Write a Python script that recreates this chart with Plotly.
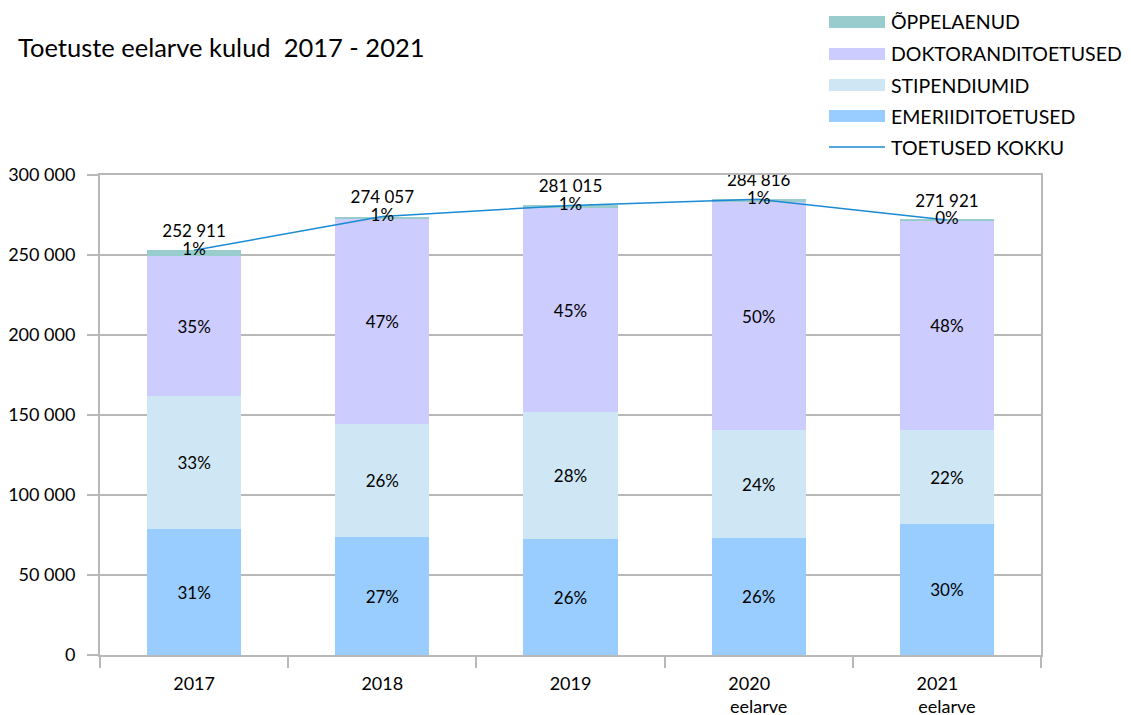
import plotly.graph_objects as go

categories = ["2017", "2018", "2019", "2020<br>eelarve", "2021<br>eelarve"]
PAD = '<span style="color:rgba(0,0,0,0)">ee</span>'
tick_text = ["2017", "2018", "2019", "2020" + PAD + "<br>eelarve", "2021" + PAD + "<br>eelarve"]
emeriidi = [78750, 73750, 72500, 73125, 81875]
stipendiumid = [83125, 70625, 79375, 67500, 58750]
doktorandi = [87500, 128125, 127500, 142491, 130796]
totals = [252911, 274057, 281015, 284816, 271921]
oppelaenud = [t - a - b - c for t, a, b, c in zip(totals, emeriidi, stipendiumid, doktorandi)]

series_names = ["ÕPPELAENUD", "DOKTORANDITOETUSED", "STIPENDIUMID", "EMERIIDITOETUSED", "TOETUSED KOKKU"]
colors = {"ÕPPELAENUD": "#99CCCC", "DOKTORANDITOETUSED": "#CCCCFF",
          "STIPENDIUMID": "#CFE6F4", "EMERIIDITOETUSED": "#99CCFF", "TOETUSED KOKKU": "#1A8AD4"}

FONT = "Lato"
W, H = 1123, 708  # page body adds an 8px offset


def pct(vals):
    return [f"{round(v / t * 100)}%" for v, t in zip(vals, totals)]


def fmt(v):
    return f"{v:,}".replace(",", " ")


fig = go.Figure()
for name, vals in [("EMERIIDITOETUSED", emeriidi), ("STIPENDIUMID", stipendiumid),
                   ("DOKTORANDITOETUSED", doktorandi)]:
    fig.add_trace(go.Bar(x=categories, y=vals, name=name, marker_color=colors[name],
                         marker_line_width=0, text=pct(vals), textposition="inside",
                         insidetextanchor="middle", textangle=0,
                         textfont=dict(size=17, color="black", family=FONT),
                         showlegend=False))
fig.add_trace(go.Bar(x=categories, y=oppelaenud, name="ÕPPELAENUD",
                     marker_color=colors["ÕPPELAENUD"], marker_line_width=0,
                     textposition="none", showlegend=False))

fig.add_trace(go.Scatter(x=categories, y=totals, mode="lines+markers+text", name="TOETUSED KOKKU",
                         line=dict(color=colors["TOETUSED KOKKU"], width=1.5),
                         marker=dict(size=13, opacity=0),
                         text=[fmt(t) for t in totals], textposition="top center",
                         textfont=dict(size=17, color="black", family=FONT),
                         cliponaxis=False, showlegend=False, hoverinfo="skip"))
fig.add_trace(go.Scatter(x=categories, y=totals, mode="text", text=pct(oppelaenud),
                         textposition="middle center", cliponaxis=False,
                         textfont=dict(size=17, color="black", family=FONT),
                         showlegend=False))

# manual legend (figure pixel coords)
L, R, T, B = 92, 1033, 167, 647


def px_x(p):
    return (p - L) / (R - L)


def px_y(p):
    return (B - p) / (B - T)


rows = [14, 46, 77, 108, 139]
for name, ry in zip(series_names, rows):
    if name == "TOETUSED KOKKU":
        fig.add_shape(type="line", xref="paper", yref="paper",
                      x0=px_x(821), x1=px_x(877), y0=px_y(ry), y1=px_y(ry),
                      line=dict(color=colors[name], width=1.5))
    else:
        fig.add_shape(type="rect", xref="paper", yref="paper",
                      x0=px_x(821), x1=px_x(877), y0=px_y(ry - 6), y1=px_y(ry + 6),
                      fillcolor=colors[name], line_width=0)
    fig.add_annotation(xref="paper", yref="paper", x=px_x(881), y=px_y(ry),
                       text=name, showarrow=False, xanchor="left", yanchor="middle",
                       font=dict(size=19.5, color="black", family=FONT))

fig.update_layout(
    width=W, height=H,
    margin=dict(l=L, r=W - R, t=T, b=H - B),
    barmode="stack", bargap=0.5,
    plot_bgcolor="white", paper_bgcolor="white",
    separators=", ",
    font=dict(family=FONT, size=16, color="black"),
    title=dict(text="Toetuste eelarve kulud  2017 - 2021", x=10 / W, xanchor="left",
               y=1 - 40 / H, yanchor="middle", font=dict(size=25.5, color="black", family=FONT)),
    showlegend=False,
)
fig.update_yaxes(range=[0, 300000], dtick=50000, tickformat=",d", showgrid=True,
                 gridcolor="#B8B8B8", gridwidth=2, showline=True, linecolor="#B8B8B8",
                 linewidth=2, mirror=True, ticks="outside", ticklen=11, tickcolor="#B8B8B8",
                 tickwidth=2, ticklabelstandoff=8, automargin=False,
                 tickfont=dict(size=18, color="black", family=FONT), zeroline=False)
fig.update_xaxes(showline=True, linecolor="#B8B8B8", linewidth=2, mirror=True,
                 ticks="outside", tickson="boundaries", ticklen=11, tickcolor="#B8B8B8",
                 tickwidth=2, tickvals=categories, ticktext=tick_text, ticklabelstandoff=11,
                 automargin=False, tickfont=dict(size=18, color="black", family=FONT))

fig.write_html("out.html")
